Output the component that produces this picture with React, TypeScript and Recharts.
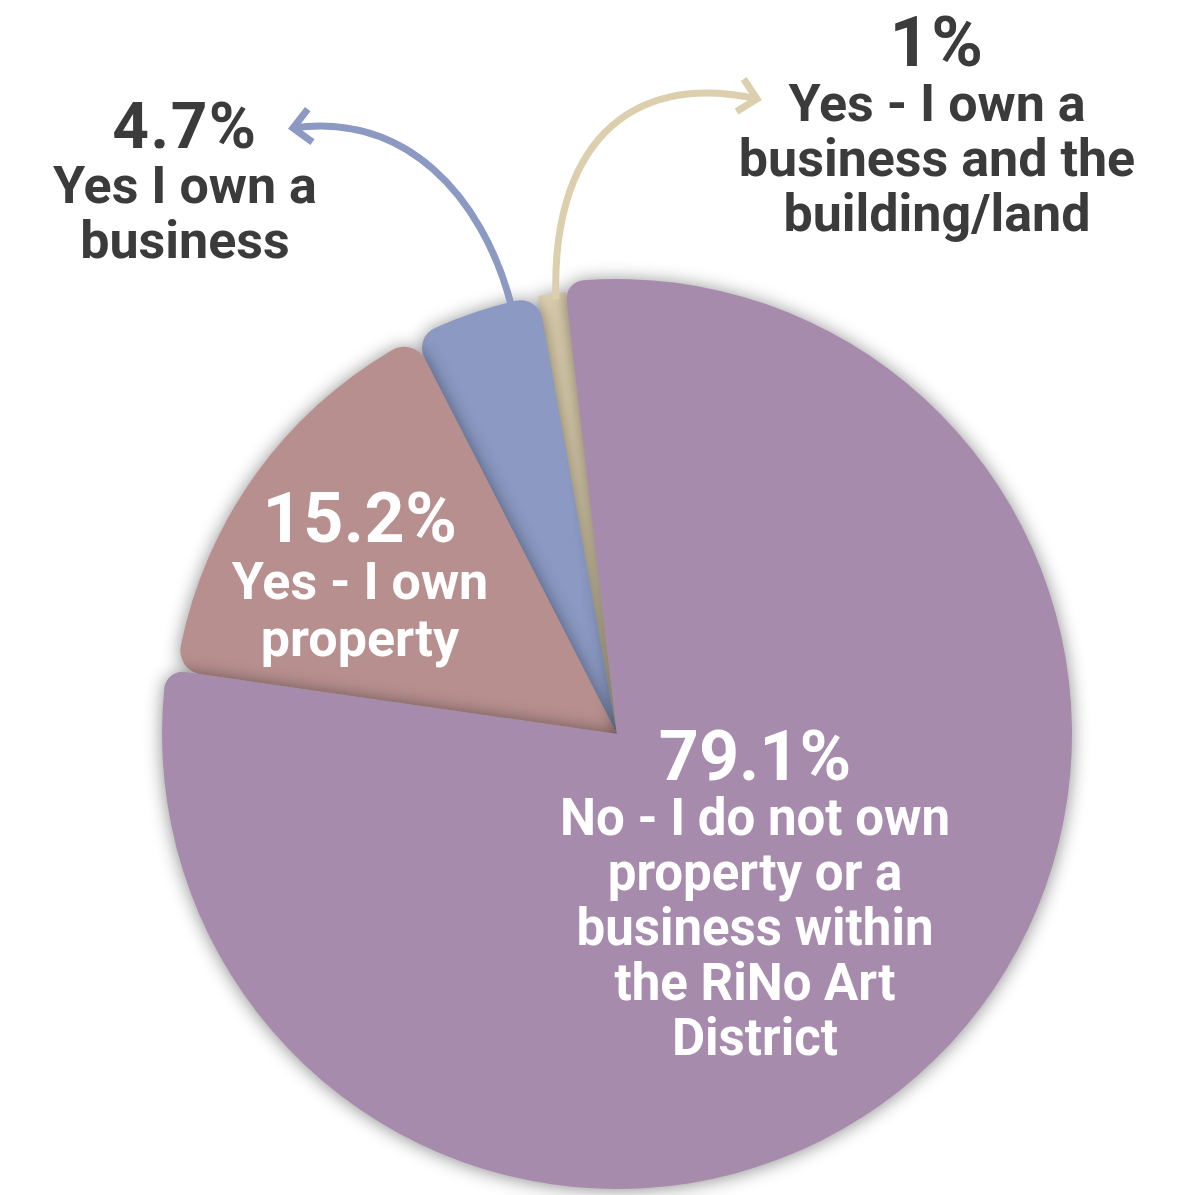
import React from "react";
import { PieChart, Pie, Cell } from "recharts";

// ---- data ----
const CATEGORIES = [
  "No - I do not own property or a business within the RiNo Art District",
  "Yes - I own property",
  "Yes I own a business",
  "Yes - I own a business and the building/land",
];
const VALUES = [79.1, 15.2, 4.7, 1];
const PERCENT_LABELS = ["79.1%", "15.2%", "4.7%", "1%"];
const LABEL_LINES = [
  ["No - I do not own", "property or a", "business within", "the RiNo Art", "District"],
  ["Yes - I own", "property"],
  ["Yes I own a", "business"],
  ["Yes - I own a", "business and the", "building/land"],
];

// ---- styles ----
const COLORS = ["#A68BAD", "#B88F8F", "#8B99C3", "#DCCFAE"];
const DRAW_ORDER = [3, 2, 1, 0];
const CENTER = { cx: 617, cy: 734 };
const START_ANGLE = 96.6;
const GEOMETRY = [
  { r: 455, corner: 18 },
  { r: 445, corner: 24 },
  { r: 445, corner: 22 },
  { r: 445, corner: 22 },
];
const LABEL_STYLE = [
  { x: 755, y: 780, pct: 70, size: 51, gap: 55, color: "#ffffff", ls: 0 },
  { x: 360, y: 542, pct: 70, size: 52, gap: 57, color: "#ffffff", ls: 0.5 },
  { x: 185, y: 148, pct: 64, size: 52, gap: 55, color: "#3b3b3b", ls: 1.5 },
  { x: 937, y: 66, pct: 70, size: 52, gap: 55, color: "#3b3b3b", ls: 1.5 },
];
// arrows: angle offset & radius offset for start (from pie geometry), control points and tip
const ARROWS: Record<number, { da: number; dr: number; c1: [number, number]; c2: [number, number]; tip: [number, number] }> = {
  2: { da: -4.8, dr: -2, c1: [482, 195], c2: [405, 112], tip: [293, 128] },
  3: { da: -0.4, dr: -6, c1: [551, 150], c2: [625, 70], tip: [757, 99] },
};

const FONT = "Roboto, 'Noto Sans', sans-serif";
const RAD = Math.PI / 180;
const SHADOW = "drop-shadow(0px 1px 9px rgba(0,0,0,0.45))";

const data = CATEGORIES.map((name, i) => ({ name, value: VALUES[i] }));

function makeLabel(layer: number) {
  return (props: any) => {
    const { index, cx, cy, outerRadius, midAngle } = props;
    if (index !== layer) return <g />;
    const st = LABEL_STYLE[index];
    const arrow = ARROWS[index];
    let arrowEl = null;
    if (arrow) {
      const a = (midAngle + arrow.da) * RAD;
      const r = outerRadius + arrow.dr;
      const sx = cx + Math.cos(-a) * r;
      const sy = cy + Math.sin(-a) * r;
      const [tx, ty] = arrow.tip;
      const [c2x, c2y] = arrow.c2;
      const ang = Math.atan2(ty - c2y, tx - c2x);
      const L = 24;
      const spread = 44 * RAD;
      const a1x = tx - Math.cos(ang - spread) * L;
      const a1y = ty - Math.sin(ang - spread) * L;
      const a2x = tx - Math.cos(ang + spread) * L;
      const a2y = ty - Math.sin(ang + spread) * L;
      arrowEl = (
        <g fill="none" stroke={COLORS[index]} strokeWidth={7}>
          <path d={`M${sx},${sy} C${arrow.c1[0]},${arrow.c1[1]} ${c2x},${c2y} ${tx},${ty}`} />
          <path d={`M${a1x},${a1y} L${tx},${ty} L${a2x},${a2y}`} strokeLinejoin="miter" />
        </g>
      );
    }
    return (
      <g>
        {arrowEl}
        <text
          x={st.x}
          y={st.y}
          textAnchor="middle"
          fill={st.color}
          fontFamily={FONT}
          fontWeight={700}
          fontSize={st.pct}
          letterSpacing={st.ls}
        >
          {PERCENT_LABELS[index]}
        </text>
        {LABEL_LINES[index].map((line, k) => (
          <text
            key={k}
            x={st.x}
            y={st.y + st.gap * (k + 1)}
            textAnchor="middle"
            fill={st.color}
            fontFamily={FONT}
            fontWeight={700}
            fontSize={st.size}
          >
            {line}
          </text>
        ))}
      </g>
    );
  };
}

export default function App() {
  return (
    <div style={{ position: "absolute", left: 0, top: 0, width: 1196, height: 1195, background: "#ffffff" }}>
      <PieChart width={1196} height={1195} margin={{ top: 0, right: 0, bottom: 0, left: 0 }}>
        {DRAW_ORDER.map((layer) => {
          const g = GEOMETRY[layer];
          return (
            <Pie
              key={layer}
              data={data}
              dataKey="value"
              nameKey="name"
              cx={CENTER.cx}
              cy={CENTER.cy}
              innerRadius={0}
              outerRadius={g.r}
              startAngle={START_ANGLE}
              endAngle={START_ANGLE - 360}
              cornerRadius={g.corner}
              stroke="none"
              isAnimationActive={false}
              labelLine={false}
              label={makeLabel(layer)}
            >
              {data.map((_, i) => (
                <Cell
                  key={i}
                  fill={i === layer ? COLORS[i] : "transparent"}
                  stroke="none"
                  style={i === layer ? { filter: SHADOW } : undefined}
                />
              ))}
            </Pie>
          );
        })}
      </PieChart>
    </div>
  );
}
